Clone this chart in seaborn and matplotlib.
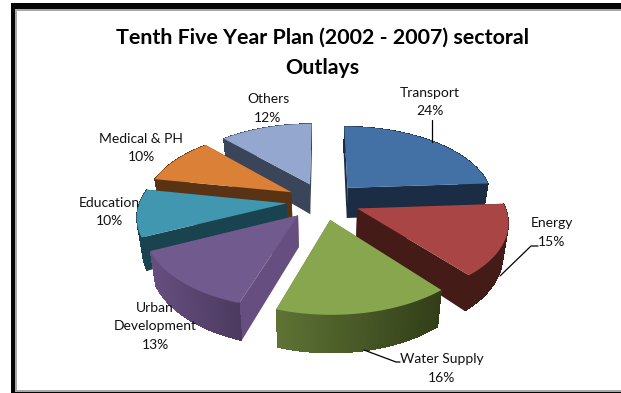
import numpy as np
import matplotlib
matplotlib.use("Agg")
import matplotlib.pyplot as plt
from matplotlib.patches import Polygon, Rectangle
import seaborn as sns

# Outlay shares, clockwise from twelve o'clock
sectors = ["Transport", "Energy", "Water Supply", "Urban\nDevelopment",
           "Education", "Medical & PH", "Others"]
shares = [24, 15, 16, 13, 10, 10, 12]

top_hex = ["#4371A6", "#A94645", "#88A64E", "#715A8E", "#4197B0", "#DA8137", "#93A7CF"]
wall_hex = ["#1B2D45", "#451B18", "#5E7334", "#664F80", "#1A4350", "#5A3314", "#3A4559"]
wall_dark_hex = ["#1B2D45", "#451B18", "#323E18", "#4C3A60", "#1A4350", "#5A3314", "#3A4559"]

label_pos = [(430, 102), (552, 232.5), (441.5, 368.5), (155, 326.5),
             (109, 212), (141, 148), (268, 108.5)]

# Painter's order: rear slices first
draw_order = [0, 6, 5, 4, 3, 1, 2]

CX, CY = 323, 201
RX, RY = 146.5, 74.3
TILT = 0.15
DEPTH = 31


def project(x, y):
    """Tilted-disc perspective from unit-pie coordinates to canvas pixels."""
    w = 1 + TILT * y
    return CX + RX * x / w, CY - RY * y / w


def drop(px, py, y):
    """Matching point on the underside of the pie."""
    w = 1 + TILT * y
    return CX + (px - CX) * 0.97, py + DEPTH / w


sns.set_theme(style="white")
plt.rcParams["font.family"] = ["Lato", "DejaVu Sans"]

fig = plt.figure(figsize=(6.21, 3.93), dpi=100)
ax = fig.add_axes([0, 0, 1, 1])

wedges, _ = ax.pie(shares, explode=[0.25] * len(shares), startangle=90,
                   counterclock=False, radius=1)
geometry = [(w.center, w.theta1, w.theta2) for w in wedges]
for w in wedges:
    w.remove()

ax.set_aspect("auto")
ax.set_xlim(0, 621)
ax.set_ylim(393, 0)
ax.axis("off")

tops = sns.color_palette(top_hex)
walls = sns.color_palette(wall_hex)
walls_dark = sns.color_palette(wall_dark_hex)

# Page frame: black band with a thin grey inner line
frame_color = "#050505"
line_color = "#A8A8A8"
ax.add_patch(Rectangle((0, 0), 621, 393, fc="white", ec="none", zorder=0))
ax.add_patch(Rectangle((15, 9), 606, 2, fc=line_color, ec="none", zorder=1))
ax.add_patch(Rectangle((15, 9), 2, 381, fc=line_color, ec="none", zorder=1))
ax.add_patch(Rectangle((15, 390), 606, 2, fc=line_color, ec="none", zorder=1))
ax.add_patch(Rectangle((11, 3), 610, 6, fc=frame_color, ec="none", zorder=1))
ax.add_patch(Rectangle((11, 3), 4, 390, fc=frame_color, ec="none", zorder=1))
ax.add_patch(Rectangle((11, 392), 610, 1, fc=frame_color, ec="none", zorder=1))

z = 2
for i in draw_order:
    (cx, cy), t1, t2 = geometry[i]
    ang = np.radians(np.linspace(t1, t2, 80))
    ux = cx + np.cos(ang)
    uy = cy + np.sin(ang)
    px, py = project(ux, uy)
    apx, apy = project(cx, cy)
    bx, by = drop(px, py, uy)
    abx, aby = drop(apx, apy, cy)

    # Two radial faces
    for k in (0, -1):
        ax.add_patch(Polygon([(apx, apy), (px[k], py[k]), (bx[k], by[k]), (abx, aby)],
                             closed=True, fc=walls[i], ec="none", zorder=z))
    z += 1
    # Curved rim, shaded from left to right
    c0, c1 = np.array(walls[i]), np.array(walls_dark[i])
    ax.add_patch(Polygon(np.r_[np.c_[px, py], np.c_[bx, by][::-1]], closed=True,
                         fc=(c0 + c1) / 2, ec="none", zorder=z))
    z += 1
    for k in range(len(px) - 1):
        f = (px[k] - px.min()) / max(px.max() - px.min(), 1)
        color = c0 + (c1 - c0) * f
        ax.add_patch(Polygon([(px[k], py[k]), (px[k + 1], py[k + 1]),
                              (bx[k + 1], by[k + 1]), (bx[k], by[k])],
                             closed=True, fc=color, ec="none", antialiased=False,
                             zorder=z))
    z += 1
    ax.add_patch(Polygon(np.r_[[[apx, apy]], np.c_[px, py]], closed=True,
                         fc=tops[i], ec="none", zorder=z))
    z += 1

# Leader lines
leaders = [([432, 432], [120, 142]),
           ([500, 531, 538], [276, 246, 246]),
           ([364, 396, 400], [350, 362, 362])]
for xs, ys in leaders:
    ax.plot(xs, ys, color="black", lw=0.9, zorder=z)

# Slice labels
for name, share, (x, y) in zip(sectors, shares, label_pos):
    ax.text(x, y, f"{name}\n{share}%", ha="center", va="center", fontsize=10,
            linespacing=1.65, color="#111111", zorder=z + 1)

ax.text(322, 53, "Tenth Five Year Plan (2002 - 2007) sectoral\nOutlays", ha="center",
        va="center", fontsize=15.4, fontweight="bold", linespacing=1.65,
        color="black", zorder=z + 1)

fig.savefig("out.png", dpi=100)
